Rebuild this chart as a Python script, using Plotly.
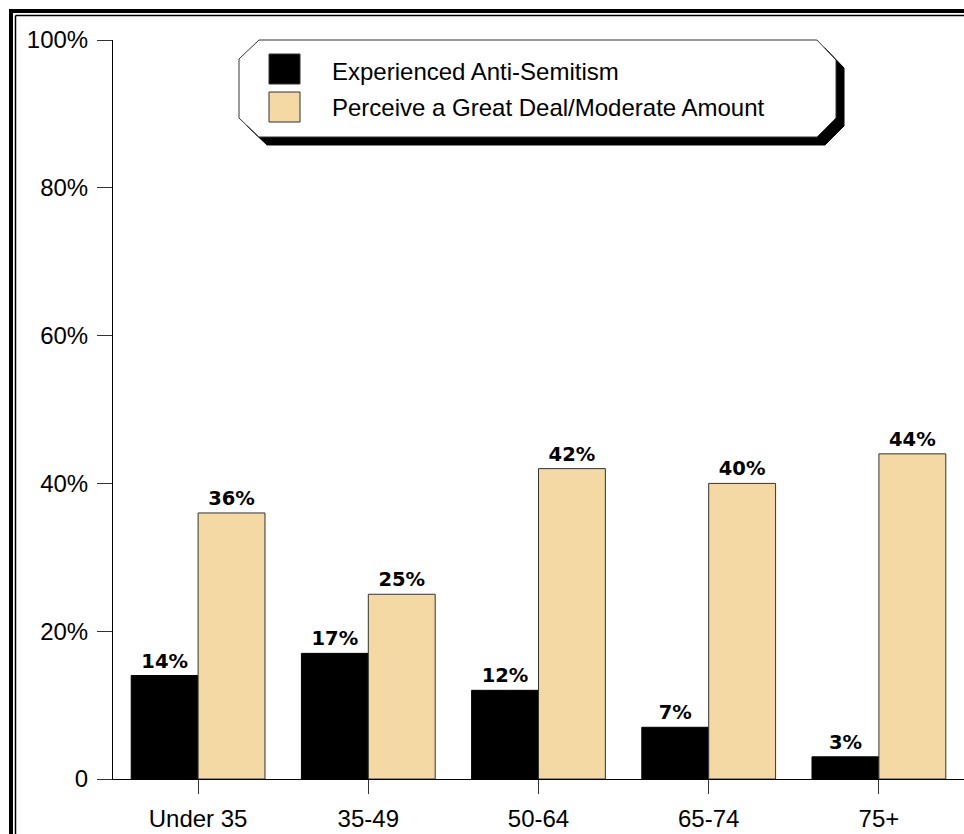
import plotly.graph_objects as go

categories = ["Under 35", "35-49", "50-64", "65-74", "75+"]
experienced = [14, 17, 12, 7, 3]
perceive = [36, 25, 42, 40, 44]
series_names = ["Experienced Anti-Semitism", "Perceive a Great Deal/Moderate Amount"]
y_tickvals = [0, 20, 40, 60, 80, 100]
y_ticktext = ["0", "20%", "40%", "60%", "80%", "100%"]

BLACK = "#000000"
TAN = "#F4D9A4"

W, H = 964, 834
L, R, T, B = 113, 0, 40, 55
PW, PH = W - L - R, H - T - B


def px(x):
    return (x - L) / PW


def py(y):
    return (H - B - y) / PH


label_font = dict(family="DejaVu Sans", size=19.5, color="black", weight="bold")

fig = go.Figure()
fig.add_trace(go.Bar(
    x=categories, y=experienced, name=series_names[0],
    marker=dict(color=BLACK, line=dict(color=BLACK, width=1)),
    text=[f"{v}%" for v in experienced], textposition="outside", cliponaxis=False,
    textfont=label_font, showlegend=False,
))
fig.add_trace(go.Bar(
    x=categories, y=perceive, name=series_names[1],
    marker=dict(color=TAN, line=dict(color="#333333", width=1)),
    text=[f"{v}%" for v in perceive], textposition="outside", cliponaxis=False,
    textfont=label_font, showlegend=False,
))

shapes = []
# outer frame (double line)
shapes.append(dict(type="line", xref="paper", yref="paper",
                   x0=px(9), x1=px(970), y0=py(11), y1=py(11),
                   line=dict(color="black", width=4)))
shapes.append(dict(type="line", xref="paper", yref="paper",
                   x0=px(11), x1=px(11), y0=py(9), y1=py(840),
                   line=dict(color="black", width=4)))
shapes.append(dict(type="line", xref="paper", yref="paper",
                   x0=px(15.5), x1=px(970), y0=py(15.5), y1=py(15.5),
                   line=dict(color="black", width=1.5)))
shapes.append(dict(type="line", xref="paper", yref="paper",
                   x0=px(15.5), x1=px(15.5), y0=py(15.5), y1=py(840),
                   line=dict(color="black", width=1.5)))


def poly(points, dx=0, dy=0):
    s = ""
    for i, (x, y) in enumerate(points):
        s += ("M" if i == 0 else "L") + f"{px(x + dx):.5f},{py(y + dy):.5f} "
    return s + "Z"


box = [(259, 40), (817, 40), (836, 60), (836, 118), (817, 137),
       (259, 137), (239, 118), (239, 59)]
shapes.append(dict(type="path", xref="paper", yref="paper", path=poly(box, 8, 8),
                   fillcolor="black", line=dict(color="black", width=1)))
shapes.append(dict(type="path", xref="paper", yref="paper", path=poly(box),
                   fillcolor="white", line=dict(color="#333333", width=1)))
# legend swatches
for (y0, y1), col in zip([(54, 84), (92, 122)], [BLACK, TAN]):
    shapes.append(dict(type="rect", xref="paper", yref="paper",
                       x0=px(269), x1=px(300), y0=py(y1), y1=py(y0),
                       fillcolor=col, line=dict(color="#333333", width=1)))

annotations = []
for name, yc in zip(series_names, [71, 108]):
    annotations.append(dict(xref="paper", yref="paper", x=px(330), y=py(yc),
                            text=name, showarrow=False, xanchor="left", yanchor="middle",
                            font=dict(family="Liberation Sans, Arial", size=24, color="black")))

fig.update_layout(
    width=W, height=H,
    margin=dict(l=L, r=R, t=T, b=B, pad=0),
    paper_bgcolor="white", plot_bgcolor="white",
    barmode="group", bargap=0.214, bargroupgap=0,
    shapes=shapes, annotations=annotations,
    font=dict(family="Liberation Sans, Arial", size=24, color="black"),
    xaxis=dict(showline=True, linecolor="black", linewidth=1, ticks="outside",
               ticklen=14, tickcolor="#333333", tickwidth=1, showgrid=False,
               range=[-0.5, 4.5], tickfont=dict(size=24, color="black"),
               ticklabelstandoff=4),
    yaxis=dict(showline=True, linecolor="black", linewidth=1, ticks="outside",
               ticklen=15, tickcolor="#333333", tickwidth=1, showgrid=False,
               range=[0, 100], tickvals=y_tickvals, ticktext=y_ticktext,
               zeroline=False, tickfont=dict(size=24, color="black"),
               ticklabelstandoff=4),
)

fig.write_html("out.html", config={"displayModeBar": False},
               post_script="document.body.style.margin='0';document.body.style.overflow='hidden';")
